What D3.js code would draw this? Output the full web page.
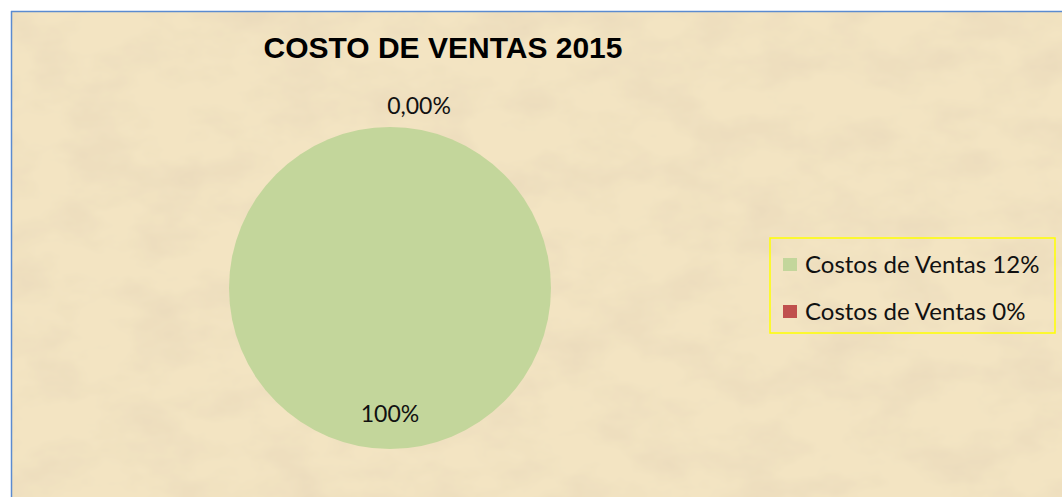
<!DOCTYPE html>
<html>
  <head>
    <meta charset="UTF-8">
    <title>Costo de Ventas 2015</title>
    <style>
      body { margin: 0; background: #fff; }
    </style>
  </head>
  <body>
    <div id='chart'></div>
    <script src='https://d3js.org/d3.v7.min.js'></script>
    <script>
      const categories = ['Costos de Ventas 12%', 'Costos de Ventas 0%'];
      const values = [100, 0];
      const labels = ['100%', '0,00%'];
      const colors = ['#C3D69B', '#C0504D'];

      const width = 1062;
      const height = 497;

      const svg = d3.select('#chart')
        .append('svg')
        .attr('width', width)
        .attr('height', height);

      // parchment-ish texture
      const defs = svg.append('defs');
      const f = defs.append('filter').attr('id', 'paper')
        .attr('x', 0).attr('y', 0).attr('width', '100%').attr('height', '100%');
      f.append('feTurbulence').attr('type', 'fractalNoise')
        .attr('baseFrequency', '0.015 0.025').attr('numOctaves', 4).attr('seed', 7).attr('result', 'n');
      f.append('feColorMatrix').attr('in', 'n').attr('type', 'matrix')
        .attr('values', '0 0 0 0 0.82  0 0 0 0 0.70  0 0 0 0 0.50  0 0 0 -1.6 1.0')
        .attr('result', 'tint');
      f.append('feComposite').attr('in', 'tint').attr('in2', 'SourceGraphic').attr('operator', 'over');

      svg.append('rect')
        .attr('x', 11).attr('y', 11)
        .attr('width', width - 11).attr('height', height - 11)
        .attr('fill', '#F3E4C2')
        .attr('filter', 'url(#paper)');

      svg.append('line')
        .attr('x1', 11.5).attr('x2', 11.5).attr('y1', 11).attr('y2', height)
        .attr('stroke', '#5B8BD0').attr('stroke-width', 1.5);
      svg.append('line')
        .attr('x1', 11).attr('x2', width).attr('y1', 11.5).attr('y2', 11.5)
        .attr('stroke', '#5B8BD0').attr('stroke-width', 1.5);

      svg.append('text')
        .attr('x', 443).attr('y', 58)
        .attr('text-anchor', 'middle')
        .attr('font-family', 'Liberation Sans, Arial, sans-serif')
        .attr('font-weight', 'bold')
        .attr('font-size', 30)
        .text('COSTO DE VENTAS 2015');

      const cx = 390, cy = 288, r = 161;
      const pie = d3.pie().sort(null).value((d) => d.value);
      const arcs = pie(categories.map((c, i) => ({ name: c, value: values[i], label: labels[i], color: colors[i] })));
      const arc = d3.arc().innerRadius(0).outerRadius(r);

      const g = svg.append('g').attr('transform', `translate(${cx},${cy})`);
      g.selectAll('path')
        .data(arcs)
        .enter().append('path')
        .attr('d', arc)
        .attr('fill', (d) => d.data.color);

      // labels: big slice inside near bottom, zero slice just outside the top
      const inner = d3.arc().innerRadius(r * 0.78).outerRadius(r * 0.78);
      const outer = d3.arc().innerRadius(r + 21).outerRadius(r + 21);
      g.selectAll('text.lbl')
        .data(arcs)
        .enter().append('text')
        .attr('class', 'lbl')
        .attr('transform', (d) => {
          const p = d.value > 0 ? inner.centroid(d) : outer.centroid(d);
          return `translate(${p[0] + (d.value > 0 ? 0 : 29)},${p[1]})`;
        })
        .attr('text-anchor', 'middle')
        .attr('dy', '0.35em')
        .attr('font-family', 'Lato, Open Sans, sans-serif')
        .attr('font-size', 23)
        .attr('fill', '#111')
        .text((d) => d.data.label);

      const lg = svg.append('g').attr('transform', 'translate(770,238)');
      lg.append('rect')
        .attr('width', 285).attr('height', 95)
        .attr('fill', 'none')
        .attr('stroke', '#FFFF00').attr('stroke-width', 1.5);
      const item = lg.selectAll('g.item')
        .data(categories)
        .enter().append('g')
        .attr('class', 'item')
        .attr('transform', (d, i) => `translate(13,${20 + i * 47})`);
      item.append('rect')
        .attr('width', 14).attr('height', 13)
        .attr('fill', (d, i) => colors[i]);
      item.append('text')
        .attr('x', 22).attr('y', 6.5)
        .attr('dy', '0.35em')
        .attr('font-family', 'Lato, Open Sans, sans-serif')
        .attr('font-size', 24)
        .attr('fill', '#111')
        .text((d) => d);
    </script>
  </body>
</html>
